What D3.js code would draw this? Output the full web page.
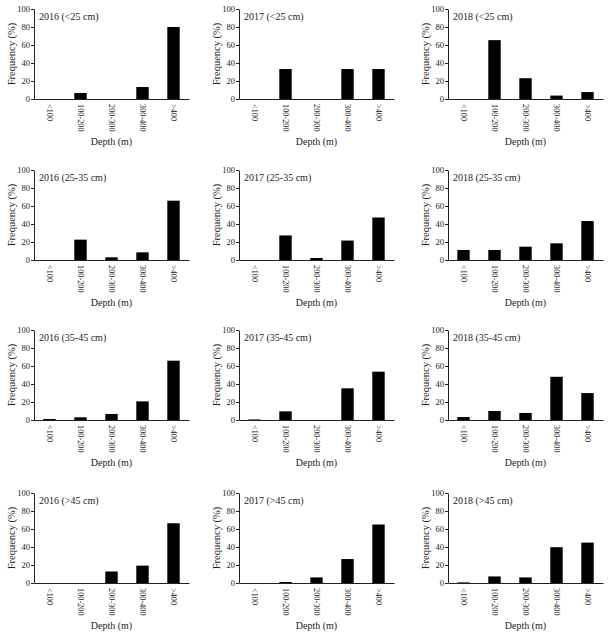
<!DOCTYPE html>
<html><head><meta charset="utf-8">
<script src="https://cdn.jsdelivr.net/npm/d3@7"></script>
<style>body{margin:0;background:#fff}svg{display:block}text{font-family:"Liberation Serif","Times New Roman",serif;fill:#222}</style>
</head><body><svg id="c" width="613" height="635"></svg>
<script>
const categories = ["<100","100-200","200-300","300-400",">400"];
const years = ["2016","2017","2018"];
const sizeClasses = ["<25 cm","25-35 cm","35-45 cm",">45 cm"];
const yTicks = [0,20,40,60,80,100];
// frequencies (%) per depth category
const v_lt25_2016 = [0, 6.7, 0, 13.3, 80];
const v_lt25_2017 = [0, 33.3, 0, 33.3, 33.3];
const v_lt25_2018 = [0, 65.4, 23.1, 3.8, 7.7];
const v_25_35_2016 = [0, 22.6, 3, 8.5, 65.9];
const v_25_35_2017 = [0, 27.3, 2.2, 21.6, 47.2];
const v_25_35_2018 = [11.1, 11.1, 14.8, 18.5, 43.3];
const v_35_45_2016 = [1.1, 3, 6.7, 20.7, 65.9];
const v_35_45_2017 = [0.6, 9.6, 0, 35.2, 53.7];
const v_35_45_2018 = [3.3, 10, 7.8, 48, 29.9];
const v_gt45_2016 = [0, 0, 12.8, 19.3, 66.4];
const v_gt45_2017 = [0, 1.1, 6.2, 26.6, 65];
const v_gt45_2018 = [0.7, 7.3, 6.2, 39.8, 44.9];
const panels = [
  [v_lt25_2016, v_lt25_2017, v_lt25_2018],
  [v_25_35_2016, v_25_35_2017, v_25_35_2018],
  [v_35_45_2016, v_35_45_2017, v_35_45_2018],
  [v_gt45_2016, v_gt45_2017, v_gt45_2018]
];

const svg = d3.select("#c");
const colX = [34, 239, 448];
const rowY = [9, 170, 330, 493];
const W = 155, H = 90;
const FONT = '"Liberation Serif","Times New Roman",serif';

const x = d3.scaleBand().domain(categories).range([0, W]).paddingInner(0.6).paddingOuter(0.3);
const y = d3.scaleLinear().domain([0, 100]).range([H, 0]);

panels.forEach((row, ri) => {
  row.forEach((vals, ci) => {
    const g = svg.append("g").attr("transform", `translate(${colX[ci]},${rowY[ri]})`);
    g.selectAll("rect").data(vals).join("rect")
      .attr("x", (d, i) => x(categories[i]))
      .attr("width", x.bandwidth())
      .attr("y", d => y(d))
      .attr("height", d => H - y(d))
      .attr("fill", "#000");
    // y axis
    const ya = g.append("g").call(d3.axisLeft(y).tickValues(yTicks).tickSize(3).tickPadding(1).tickSizeOuter(0));
    ya.attr("font-family", FONT);
    ya.selectAll("text").style("font-size", "8.5px");
    ya.selectAll("line,path").attr("stroke", "#222");
    // x axis
    const xa = g.append("g").attr("transform", `translate(0,${H})`)
      .call(d3.axisBottom(x).tickSize(0).tickSizeOuter(0).tickPadding(0));
    xa.attr("font-family", FONT);
    xa.selectAll("path").attr("stroke", "#222");
    xa.selectAll("text")
      .style("font-size", "8.3px")
      .attr("transform", "rotate(90)")
      .attr("x", 5).attr("y", 0).attr("dy", "0.32em")
      .attr("text-anchor", "start");
    // title
    g.append("text").attr("x", 5).attr("y", 11).style("font-size", "10px")
      .text(`${years[ci]} (${sizeClasses[ri]})`);
    // axis labels
    g.append("text").attr("x", W / 2).attr("y", H + 46).attr("text-anchor", "middle")
      .style("font-size", "10px").text("Depth (m)");
    g.append("text").attr("transform", `translate(-19,${H / 2}) rotate(-90)`)
      .attr("text-anchor", "middle").style("font-size", "10.5px").text("Frequency (%)");
  });
});
</script></body></html>
